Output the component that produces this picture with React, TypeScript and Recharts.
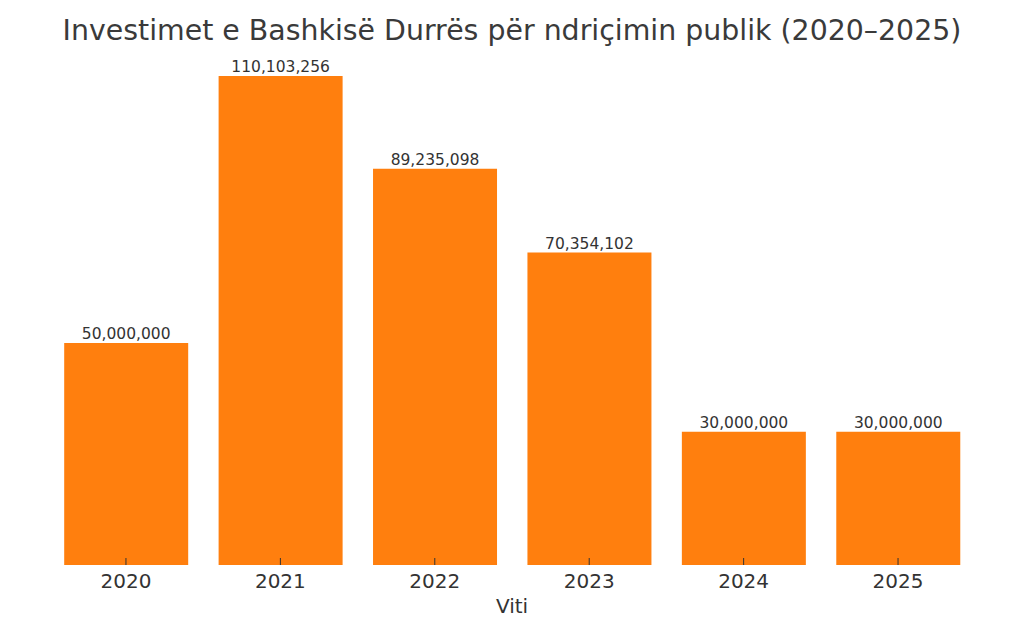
import React from "react";
import { BarChart, Bar, XAxis, YAxis, LabelList } from "recharts";

const years = ["2020", "2021", "2022", "2023", "2024", "2025"];
const amounts = [50000000, 110103256, 89235098, 70354102, 30000000, 30000000];

const data = years.map((year, i) => ({ year, amount: amounts[i] }));

const FONT = "'DejaVu Sans', Verdana, sans-serif";
const TEXT = "#333333";

const YearTick = (props: any) => {
  const { x, y, payload } = props;
  return (
    <g>
      <line x1={x} x2={x} y1={y - 7} y2={y} stroke={TEXT} strokeWidth={1} />
      <text x={x} y={y + 23} textAnchor="middle" fill={TEXT} fontSize={20} fontFamily={FONT}>
        {payload.value}
      </text>
    </g>
  );
};

const App: React.FC = () => {
  return (
    <div
      style={{
        position: "absolute",
        left: 0,
        top: 0,
        width: 1024,
        height: 640,
        background: "#fff",
        fontFamily: FONT,
      }}
    >
      <div
        style={{
          position: "absolute",
          top: 17,
          left: 0,
          width: 1024,
          textAlign: "center",
          fontSize: 28.4,
          lineHeight: "28px",
          color: "#3a3a3a",
        }}
      >
        Investimet e Bashkisë Durrës për ndriçimin publik (2020–2025)
      </div>
      <div style={{ position: "absolute", top: 0, left: 0 }}>
        <BarChart
          width={1024}
          height={640}
          data={data}
          margin={{ top: 51.5, right: 48.75, bottom: 35, left: 48.75 }}
          barCategoryGap="10%"
        >
          <YAxis hide domain={[0, 115608419]} />
          <XAxis
            dataKey="year"
            height={40}
            axisLine={false}
            tickLine={false}
            tickSize={0}
            tickMargin={0}
            tick={<YearTick />}
            interval={0}
          />
          <Bar dataKey="amount" fill="#ff7f0e" isAnimationActive={false}>
            <LabelList
              dataKey="amount"
              position="top"
              offset={4}
              fill={TEXT}
              fontSize={15.5}
              fontFamily={FONT}
              formatter={(v: any) => Number(v).toLocaleString("en-US")}
            />
          </Bar>
        </BarChart>
      </div>
      <div
        style={{
          position: "absolute",
          top: 596,
          left: 0,
          width: 1024,
          textAlign: "center",
          fontSize: 20,
          lineHeight: "20px",
          color: TEXT,
        }}
      >
        Viti
      </div>
    </div>
  );
};

export default App;
